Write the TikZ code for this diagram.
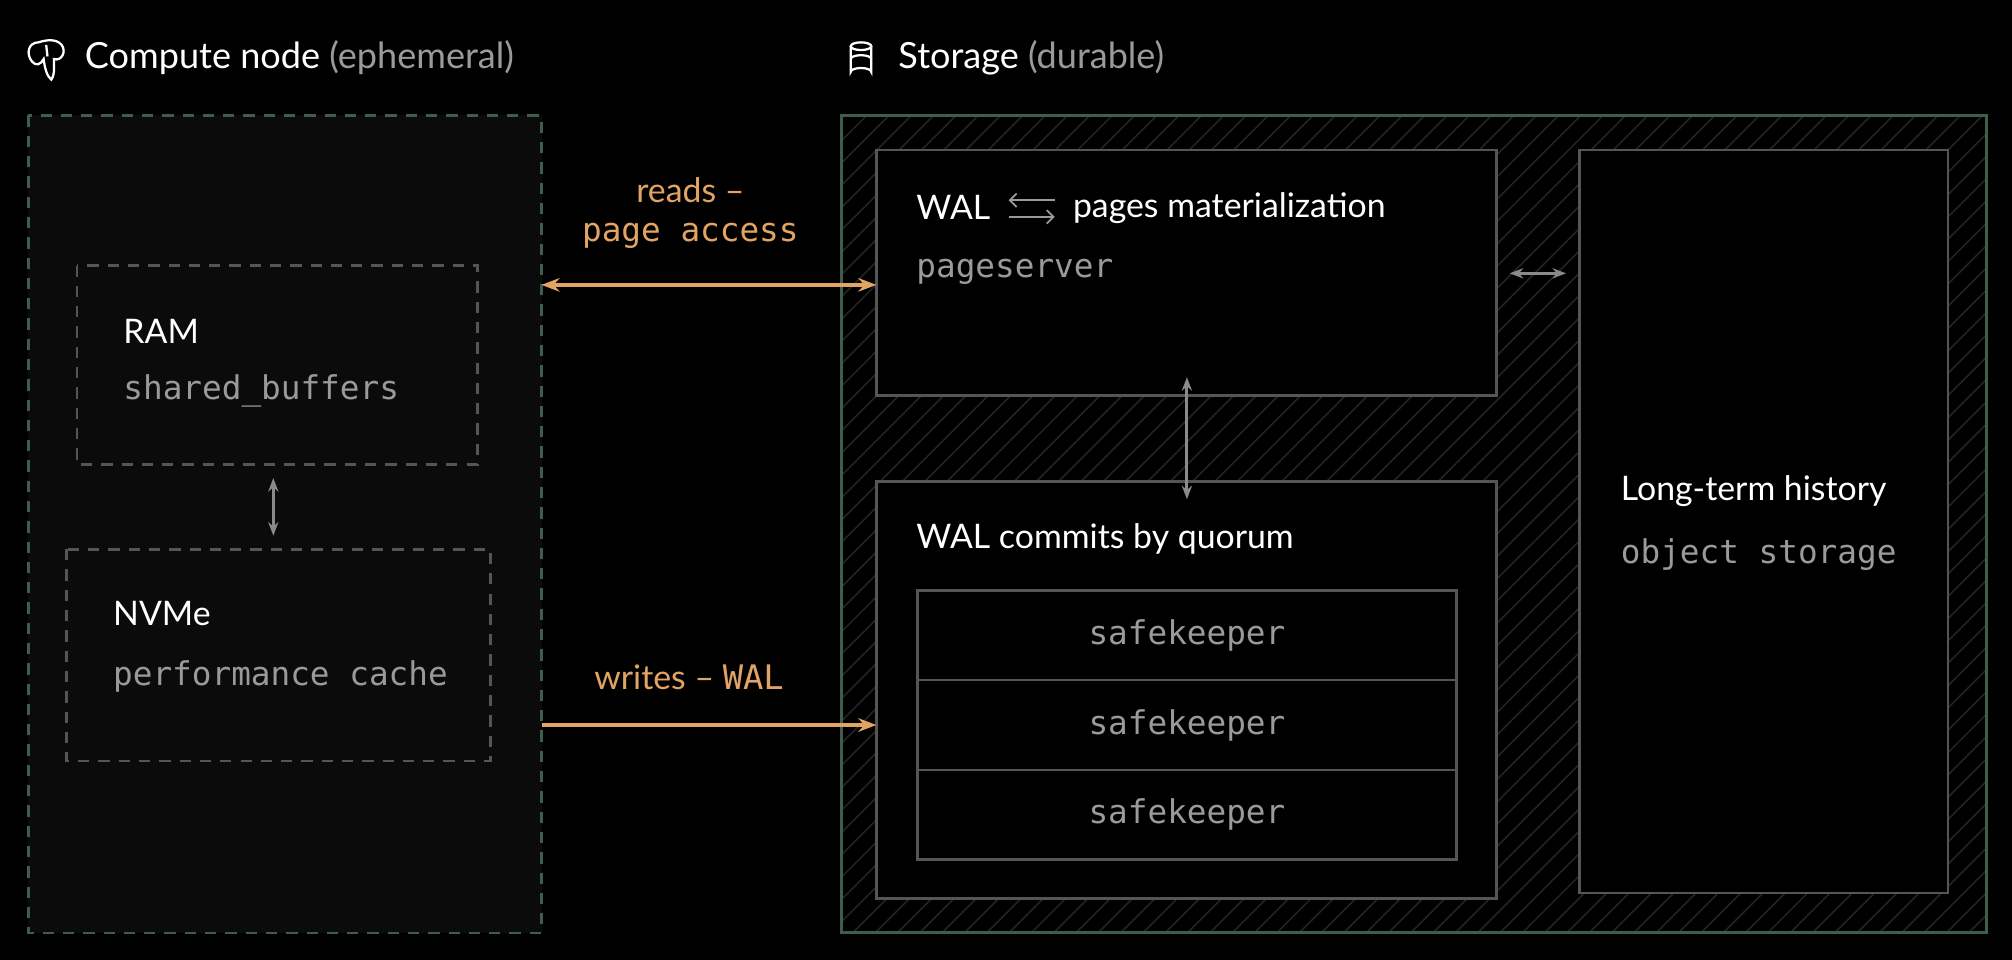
\documentclass[tikz,border=0pt]{standalone}
\usepackage{fontspec}
\setmainfont{Lato}
\newfontfamily\codefont{DejaVu Sans Mono}
\usetikzlibrary{arrows.meta,patterns.meta,positioning}

\definecolor{bgcol}{HTML}{000000}
\definecolor{panelcol}{HTML}{0B0B0B}
\definecolor{edgecol}{HTML}{555555}
\definecolor{greencol}{HTML}{3E5E4C}
\definecolor{hatchcol}{HTML}{242424}
\definecolor{dimcol}{HTML}{9A9A9A}
\definecolor{orangecol}{HTML}{E2A464}
\definecolor{arrowcol}{HTML}{8A8A8A}

\tikzset{
	box/.style={draw=edgecol, line width=1.2pt, fill=black},
	dbox/.style={draw=edgecol, line width=1.2pt, dash pattern=on 5pt off 4pt},
	title/.style={anchor=west, text=white, font=\fontsize{15}{18}\selectfont},
	code/.style={anchor=west, text=dimcol, font=\codefont\fontsize{14.5}{17}\selectfont},
	link/.style={line width=1.3pt, arrowcol, {Stealth[length=6pt]}-{Stealth[length=6pt]}},
	flow/.style={line width=1.6pt, orangecol},
}

\begin{document}
\begin{tikzpicture}[x=0.02cm, y=-0.02cm]

\fill [bgcol] (0,0) rectangle (1568,748);
\path [use as bounding box] (0,0) rectangle (1568,748);

% HEADERS
\node [title, font=\fontsize{16}{19}\selectfont] (computetitle) at (60,45)
	{Compute node \textcolor{dimcol}{(ephemeral)}};
\node [title, font=\fontsize{16}{19}\selectfont] (storagetitle) at (694,45)
	{Storage \textcolor{dimcol}{(durable)}};

% ICONS
\draw [white, line width=1pt] (30,33) .. controls (22,33) and (20,42) .. (25,48)
	.. controls (28,52) and (32,50) .. (34,46)
	.. controls (35,54) and (37,60) .. (40,62)
	.. controls (43,58) and (42,50) .. (42,46)
	.. controls (48,48) and (52,40) .. (48,35)
	.. controls (44,30) and (36,31) .. (30,33);
\draw [white, line width=1pt] (36,35) -- (37,44);
\draw [white, line width=1pt] (663,36) -- (663,56) arc[start angle=180, end angle=360, x radius=8, y radius=3]
	-- (679,36);
\draw [white, line width=1pt] (671,36) ellipse [x radius=8, y radius=3];
\draw [white, line width=1pt] (663,46) arc[start angle=180, end angle=360, x radius=8, y radius=3];

% COMPUTE
\draw [panelcol, fill=panelcol] (22,90) rectangle (422,727);
\draw [draw=greencol, line width=1.2pt, dash pattern=on 5pt off 4pt] (22,90) rectangle (422,727);
\draw [dbox] (60,207) rectangle (372,362);
\coordinate (ramtop) at (213,362);
\node [title] (ram) at (90,258) {RAM};
\node [code] (buffers) at (90,305) {shared\_buffers};
\draw [dbox] (52,428) rectangle (382,593);
\coordinate (nvmetop) at (213,428);
\node [title] (nvme) at (82,478) {NVMe};
\node [code] (cache) at (82,527) {performance cache};
\draw [link] ([yshift=-6]ramtop) -- ([yshift=6]nvmetop);

% STORAGE
\pattern [pattern={Lines[angle=45, distance=7pt, line width=0.7pt]}, pattern color=hatchcol]
	(656,90) rectangle (1548,727);
\draw [greencol, line width=1.4pt] (656,90) rectangle (1548,727);

\draw [box] (683,117) rectangle (1166,308);
\coordinate (psleft) at (683,222);
\coordinate (psright) at (1166,213);
\coordinate (psbottom) at (925,308);
\node [title] (wal) at (708,162) {WAL};
\draw [line width=0.8pt, dimcol, -{Straight Barb[length=3pt]}] (822,156) -- (786,156);
\draw [line width=0.8pt, dimcol, -{Straight Barb[length=3pt]}] (786,169) -- (822,169);
\node [title] (pages) at (830,162) {pages materialization};
\node [code] (pageserver) at (708,212) {pageserver};

\draw [box] (683,375) rectangle (1166,700);
\coordinate (sktop) at (925,375);
\coordinate (skleft) at (683,565);
\node [title] (quorum) at (708,420) {WAL commits by quorum};
\foreach \y [count=\i] in {460,530,600} {
	\draw [box] (715,\y) rectangle (1135,\y+70);
	\node [code, anchor=center] (keeper\i) at (925,\y+35) {safekeeper};
}

\draw [box] (1231,117) rectangle (1518,696);
\coordinate (histleft) at (1231,213);
\node [title] (history) at (1257,383) {Long-term history};
\node [code] (objects) at (1257,432) {object storage};

% CONNECTORS
\coordinate (computeright) at (422,222);
\coordinate (computewrite) at (422,565);
\draw [flow, {Stealth[length=8pt]}-{Stealth[length=8pt]}] (computeright) -- (psleft);
\draw [flow, -{Stealth[length=8pt]}] (computewrite) -- (skleft);
\draw [link] ([xshift=6]psright) -- ([xshift=-6]histleft);
\draw [link] ([yshift=8]psbottom) -- ([yshift=-8]sktop);

\node [text=orangecol, font=\fontsize{15}{18}\selectfont] (readlabel) at (538,148) {reads --};
\node [text=orangecol, font=\codefont\fontsize{14.5}{17}\selectfont, below=2pt of readlabel] (readcode) {page access};
\node [text=orangecol, font=\fontsize{15}{18}\selectfont] (writelabel) at (537,528)
	{writes -- {\codefont WAL}};

\end{tikzpicture}
\end{document}
